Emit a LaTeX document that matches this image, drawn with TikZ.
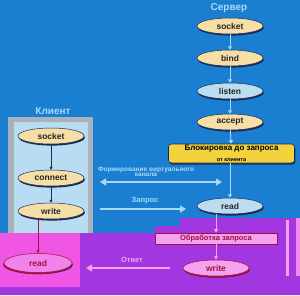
\documentclass[tikz,border=0pt]{standalone}
\usepackage{fontspec}
\setmainfont{Liberation Sans}
\usetikzlibrary{shadows,arrows.meta,shapes.geometric}
\definecolor{bgblue}{HTML}{1A7FD0}
\definecolor{purp}{HTML}{A236E0}
\definecolor{pinkr}{HTML}{F055E4}
\definecolor{cream}{HTML}{F6DFA6}
\definecolor{lblue}{HTML}{BCDDF0}
\definecolor{navy}{HTML}{1B2A55}
\definecolor{arr}{HTML}{A8DAF6}
\definecolor{panelgray}{HTML}{A9B2BC}
\definecolor{panelin}{HTML}{B8DDF2}
\definecolor{yel}{HTML}{F2D23E}
\definecolor{pinkfill}{HTML}{F2A2EE}
\definecolor{darkred}{HTML}{A01040}
\tikzset{
  x=1pt,y=-1pt,
  oval/.style={ellipse,draw=navy,line width=0.5pt,fill=cream,minimum width=66pt,minimum height=16pt,inner sep=0pt,
    font=\bfseries\fontsize{8.5}{9}\selectfont,text=black!85,
    drop shadow={shadow xshift=0.8pt,shadow yshift=-1.6pt,fill=navy,opacity=1}},
  title/.style={font=\bfseries\fontsize{10}{11}\selectfont,text=arr},
  srvarrow/.style={draw=arr,line width=0.9pt,-{Triangle[length=3.5pt,width=4pt]}},
  cliarrow/.style={draw=navy,line width=0.6pt,-{Triangle[length=3pt,width=3pt]}},
  bigarrow/.style={draw=arr,line width=1.3pt,-{Triangle[length=6pt,width=7pt]}},
  lab/.style={font=\bfseries\fontsize{6.5}{6.5}\selectfont,text=arr,align=center},
}
\begin{document}
\begin{tikzpicture}
\useasboundingbox (0,0) rectangle (300,295);
% backgrounds
\fill[bgblue] (0,0) rectangle (300,295);
% client panel
\fill[panelgray] (8,117) rectangle (93,240);
\fill[panelin] (14,122) rectangle (88,240);
% purple and pink areas
\fill[purp] (80,233) -- (155,233) -- (155,226) -- (180,226) -- (180,218) -- (300,218) -- (300,295) -- (0,295) -- (0,287) -- (80,287) -- cycle;
\fill[pinkr] (0,233) rectangle (80,287);
\fill[pinkfill] (286,220) rectangle (288.5,276);
\fill[pinkr!70!white] (296,218) rectangle (300,276);
% titles
\node[title] (srvt) at (229,8) {Сервер};
\node[title] (clit) at (53,111) {Клиент};
% server nodes
\node[oval] (ssock) at (230,26) {socket};
\node[oval] (sbind) at (230,58) {bind};
\node[oval,fill=lblue] (slist) at (230,91) {listen};
\node[oval] (sacc) at (230,122) {accept};
\node[draw=navy,line width=0.6pt,fill=yel,rounded corners=3pt,minimum width=126pt,minimum height=19pt,inner sep=0pt,align=center,
  drop shadow={shadow xshift=0.8pt,shadow yshift=-1.6pt,fill=navy,opacity=1}] (block) at (231.5,153.5)
  {{\bfseries\fontsize{8}{8}\selectfont Блокировка до запроса}\\[-1.5pt]{\bfseries\fontsize{5.5}{5.5}\selectfont от клиента}};
\node[oval,fill=lblue] (sread) at (230,206) {read};
\node[draw=darkred,line width=0.6pt,fill=pinkfill,minimum width=122pt,minimum height=11pt,inner sep=0pt,
  font=\bfseries\fontsize{7.5}{8}\selectfont,text=darkred] (proc) at (216,238.5) {Обработка запроса};
\node[oval,fill=pinkfill,draw=darkred,text=darkred,drop shadow={shadow xshift=0.8pt,shadow yshift=-1.6pt,fill=darkred,opacity=1}] (swrite) at (216,268) {write};
% client nodes
\node[oval] (csock) at (51,136) {socket};
\node[oval] (cconn) at (51,178) {connect};
\node[oval] (cwrite) at (51,211) {write};
\node[oval,minimum width=68pt,minimum height=19pt,fill=pinkfill!60!pinkr,draw=darkred,text=darkred,drop shadow={shadow xshift=-0.8pt,shadow yshift=-1.6pt,fill=darkred,opacity=1}] (cread) at (38,263) {read};
% server arrows
\draw[srvarrow] (ssock) -- (sbind);
\draw[srvarrow] (sbind) -- (slist);
\draw[srvarrow] (slist) -- (sacc);
\draw[srvarrow] (sacc) -- (block);
\draw[srvarrow] (block.south -| sread) -- (sread);
\draw[srvarrow,draw=pinkfill] (sread.south -| proc) -- (proc);
\draw[srvarrow,draw=pinkfill] (proc) -- (swrite);
% client arrows
\draw[cliarrow] (csock) -- (cconn);
\draw[cliarrow] (cconn) -- (cwrite);
\draw[cliarrow,draw=darkred] (cwrite.south -| cread) -- (cread);
% horizontal arrows
\coordinate (v1) at (100,182);
\coordinate (v2) at (222,182);
\draw[bigarrow,{Triangle[length=6pt,width=7pt]}-{Triangle[length=6pt,width=7pt]}] (v1) -- (v2);
\node[lab] (vlab) at (146,172) {Формирование виртуального\\[-1pt]канала};
\coordinate (q1) at (100,209);
\coordinate (q2) at (186,209);
\draw[bigarrow] (q1) -- (q2);
\node[lab,font=\bfseries\fontsize{7.5}{8}\selectfont] (qlab) at (145,201) {Запрос};
\coordinate (o1) at (170,268);
\coordinate (o2) at (86,268);
\draw[bigarrow,draw=pinkfill] (o1) -- (o2);
\node[lab,font=\bfseries\fontsize{7.5}{8}\selectfont,text=pinkfill] (olab) at (132,260) {Ответ};
\end{tikzpicture}
\end{document}
